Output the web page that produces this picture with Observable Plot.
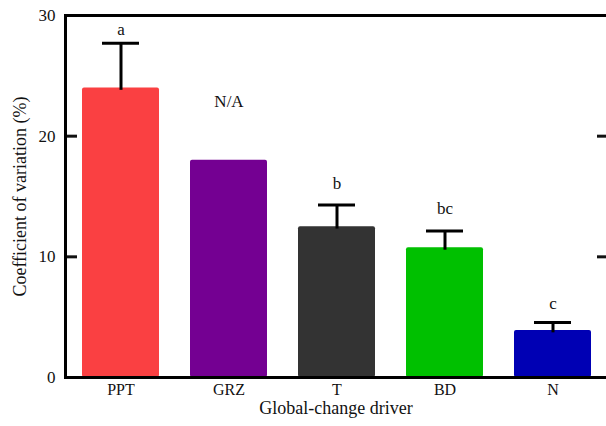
<!DOCTYPE html>
<html>
<head>
<meta charset="utf-8">
<script src="https://cdn.jsdelivr.net/npm/d3@7"></script>
<script src="https://cdn.jsdelivr.net/npm/@observablehq/plot@0.6"></script>
<style>
  html, body { margin: 0; padding: 0; background: #fff; }
  #chart svg, #chart svg text { font-family: "Liberation Serif", "Times New Roman", serif !important; }
</style>
</head>
<body>
<div id="chart"></div>
<script>
const drivers = ["PPT", "GRZ", "T", "BD", "N"];
const means = [24.0, 18.0, 12.5, 10.75, 3.9];
const errors = [3.7, null, 1.8, 1.4, 0.65];
const letters = ["a", "N/A", "b", "bc", "c"];
const letterPos = [28.8, 22.9, 16.1, 14.0, 6.1];
const colors = ["#fa4042", "#740092", "#333333", "#00c000", "#0000b4"];
const yTicks = [0, 10, 20, 30];

const data = drivers.map((d, i) => ({
  driver: d, mean: means[i], se: errors[i], letter: letters[i], ly: letterPos[i]
}));
const withErr = data.filter(d => d.se != null);

const font = "'Liberation Serif', 'Times New Roman', serif";

const chart = Plot.plot({
  width: 606,
  height: 426,
  marginTop: 15,
  marginBottom: 49,
  marginLeft: 65,
  marginRight: 0,
  style: { fontFamily: font, fontSize: "16px", color: "#111", background: "#fff" },
  x: { domain: drivers, range: [65, 607], paddingInner: 0.29, paddingOuter: 0.14, label: null },
  y: { domain: [0, 30], label: null },
  color: { domain: drivers, range: colors },
  marks: [
    Plot.barY(data, { x: "driver", y: "mean", fill: "driver", rx: 2 }),
    Plot.ruleX(withErr, { x: "driver", y1: d => d.mean - 0.2, y2: d => d.mean + d.se, stroke: "#000", strokeWidth: 3 }),
    Plot.tickY(withErr, { x: "driver", y: d => d.mean + d.se, stroke: "#000", strokeWidth: 3, insetLeft: 20, insetRight: 20 }),
    Plot.text(data, { x: "driver", y: "ly", text: "letter", fontSize: 17, fontFamily: font, fill: "#111" }),
    Plot.axisY({ ticks: yTicks, tickSize: 0, tickPadding: 10, fontSize: 17, fontFamily: font }),
    Plot.axisY({ ticks: [10, 20], tickSize: -12, tickFormat: () => "", strokeWidth: 3 }),
    Plot.axisY({ anchor: "right", ticks: [10, 20], tickSize: -10, tickFormat: () => "", strokeWidth: 3 }),
    Plot.axisX({ tickSize: 0, tickPadding: 6, fontSize: 16, fontFamily: font }),
    Plot.ruleY([0, 30], { stroke: "#000", strokeWidth: 3 }),
    Plot.frame({ anchor: "left", stroke: "#000", strokeWidth: 3 }),
    Plot.text(["Global-change driver"], { frameAnchor: "bottom", dy: 31, textAnchor: "middle", lineAnchor: "middle", text: d => d, fontSize: 18, fontFamily: font, fill: "#111" }),
    Plot.text(["Coefficient of variation (%)"], { frameAnchor: "left", dx: -45, rotate: -90, textAnchor: "middle", lineAnchor: "middle", text: d => d, fontSize: 18, fontFamily: font, fill: "#111" })
  ]
});
document.getElementById("chart").appendChild(chart);
</script>
</body>
</html>
